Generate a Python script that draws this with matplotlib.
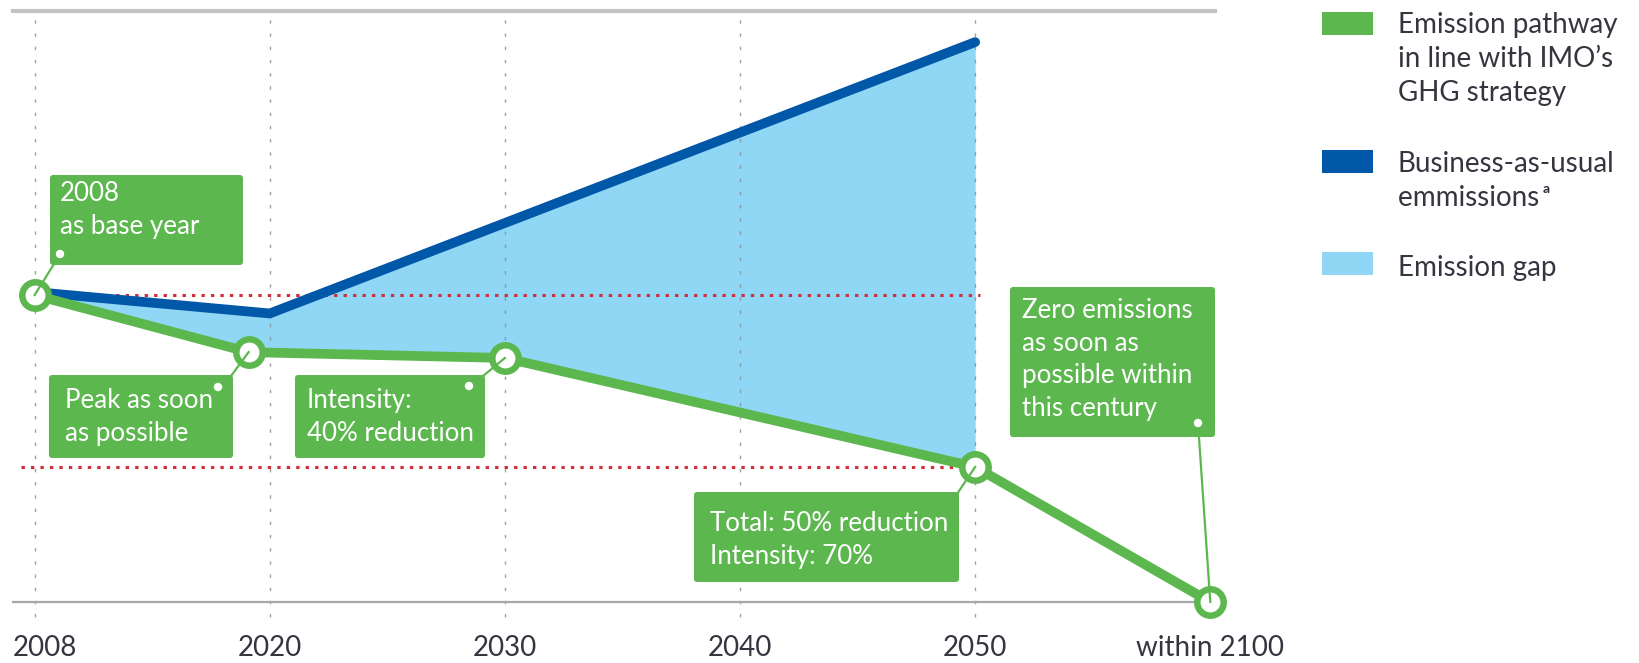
import numpy as np
import matplotlib
matplotlib.use("Agg")
import matplotlib.pyplot as plt
from matplotlib.patches import FancyBboxPatch, Rectangle, Circle
from matplotlib.lines import Line2D
from matplotlib.transforms import IdentityTransform, offset_copy

plt.rcParams['font.family'] = ['Lato', 'DejaVu Sans']

# ---------------- data ----------------
tick_labels = ["2008", "2020", "2030", "2040", "2050", "within 2100"]
tick_pos = [0, 1, 2, 3, 4, 5]

# Emission pathway (IMO strategy) – relative emissions, 2008 = 100
green_x = [0, 0.91, 2, 4, 5]
green_y = [100, 81.4, 79.5, 44, 0]

# Business-as-usual emissions
blue_x = [0, 1, 4]
blue_y = [101, 94, 182.4]

# reference (red dotted) levels
ref_levels = [100, 44]

legend_labels = ["Emission pathway\nin line with IMO\u2019s\nGHG strategy",
                 "Business-as-usual\nemmissions\u2009\u1d43",
                 "Emission gap"]

box_texts = ["2008\nas base year",
             "Peak as soon\nas possible",
             "Intensity:\n40% reduction",
             "Total: 50% reduction\nIntensity: 70%",
             "Zero emissions\nas soon as\npossible within\nthis century"]

# ---------------- style ----------------
GREEN = "#5cb84e"
BLUE = "#0158a8"
LIGHT = "#8fd7f5"
RED = "#d22f3b"
GRID = "#8a8a8a"
TXT = "#35353f"

W, H = 1640, 663
fig = plt.figure(figsize=(W / 100, H / 100), dpi=100)


def fx(px):
    return px / W


def fy(py):
    return 1 - py / H


ax = fig.add_axes([fx(12.5), fy(602), fx(1215 - 12.5), (602 - 10.5) / H])
ax.set_xlim(-0.094, 5.02)
ax.set_ylim(0, 192.7)

for s in ["left", "right"]:
    ax.spines[s].set_visible(False)
ax.spines["bottom"].set_color("#a8a8ac")
ax.spines["bottom"].set_linewidth(1.6)
ax.spines["top"].set_color("#c4c4c6")
ax.spines["top"].set_linewidth(3.0)
ax.set_yticks([])

ax.set_xticks(tick_pos)
ax.set_xticklabels(tick_labels, fontsize=20, color=TXT)
ax.tick_params(axis="x", length=0, pad=24)
first = ax.get_xticklabels()[0]
first.set_ha("left")
first.set_transform(offset_copy(first.get_transform(), fig=fig, x=-22, y=0, units="dots"))

# vertical dotted grid lines
ax.vlines(tick_pos[:5], -5, 192.7, colors=GRID, linewidth=1.0,
          linestyles=[(0, (2.5, 7))], clip_on=False, zorder=2, alpha=0.8)

# emission gap fill
xs = np.array(sorted(set(green_x[:4] + blue_x)))
gi = np.interp(xs, green_x, green_y)
bi = np.interp(xs, blue_x, blue_y)
ax.fill_between(xs, gi, bi, color=LIGHT, linewidth=0, zorder=1)

# red reference lines
for lv in ref_levels:
    ax.plot([-0.057, 4.02], [lv, lv], color=RED, linewidth=2.2,
            linestyle=(0, (1.1, 2.0)), zorder=3)

# business as usual
ax.plot(blue_x, blue_y, color=BLUE, linewidth=7, solid_capstyle="round",
        solid_joinstyle="miter", zorder=4)

# green pathway
ax.plot(green_x, green_y, color=GREEN, linewidth=7, solid_joinstyle="round",
        zorder=5, clip_on=False)
ax.plot(green_x, green_y, linestyle="none", marker="o", markersize=19,
        markerfacecolor="white", markeredgecolor=GREEN, markeredgewidth=4.7,
        zorder=7, clip_on=False)

fig.canvas.draw()


def to_disp(x, y):
    return ax.transData.transform((x, y))


# annotation boxes (pixel coordinates, top-left origin)
boxes = [
    # x0, y0, x1, y1, text-left, first-line-center, dot, connector start
    (50, 175, 243, 265, 60, 195, (60, 254), (54, 264)),
    (49, 375, 233, 458, 65, 402, (218, 387), (231, 376)),
    (295, 375, 485, 458, 307, 402, (469, 386), (483, 376)),
    (694, 492, 959, 582, 710, 525, None, (957, 494)),
    (1010, 287, 1215, 437, 1022, 312, (1198, 423), (1198, 423)),
]
targets = list(zip(green_x, green_y))

for (x0, y0, x1, y1, tx, ty, dot, cs), txt, tgt in zip(boxes, box_texts, targets):
    tdx, tdy = to_disp(*tgt)
    fig.add_artist(Line2D([cs[0], tdx], [H - cs[1], tdy], color=GREEN,
                          linewidth=1.6, transform=IdentityTransform(), zorder=6))
    p = FancyBboxPatch((x0, H - y1), x1 - x0, y1 - y0,
                       boxstyle="round,pad=0,rounding_size=3",
                       transform=IdentityTransform(), fc=GREEN, ec="none", zorder=8)
    fig.add_artist(p)
    fig.text(fx(tx), fy(ty - 14), txt, fontsize=18.6, color="white", ha="left",
             va="top", linespacing=1.38, zorder=9)
    if dot is not None:
        fig.add_artist(Circle((dot[0], H - dot[1]), 4.2, transform=IdentityTransform(),
                              fc="white", ec="none", zorder=9))

# legend
leg_colors = [GREEN, BLUE, LIGHT]
leg_patch_y = [12, 150, 252]
leg_text_y = [12, 151, 255]
for c, py, ty, lab in zip(leg_colors, leg_patch_y, leg_text_y, legend_labels):
    fig.add_artist(Rectangle((fx(1322), fy(py + 23)), fx(51), 23 / H,
                             transform=fig.transFigure, fc=c, ec="none"))
    fig.text(fx(1398), fy(ty), lab, fontsize=20, color=TXT, ha="left", va="top",
             linespacing=1.38)

fig.savefig("out.png", dpi=100)
